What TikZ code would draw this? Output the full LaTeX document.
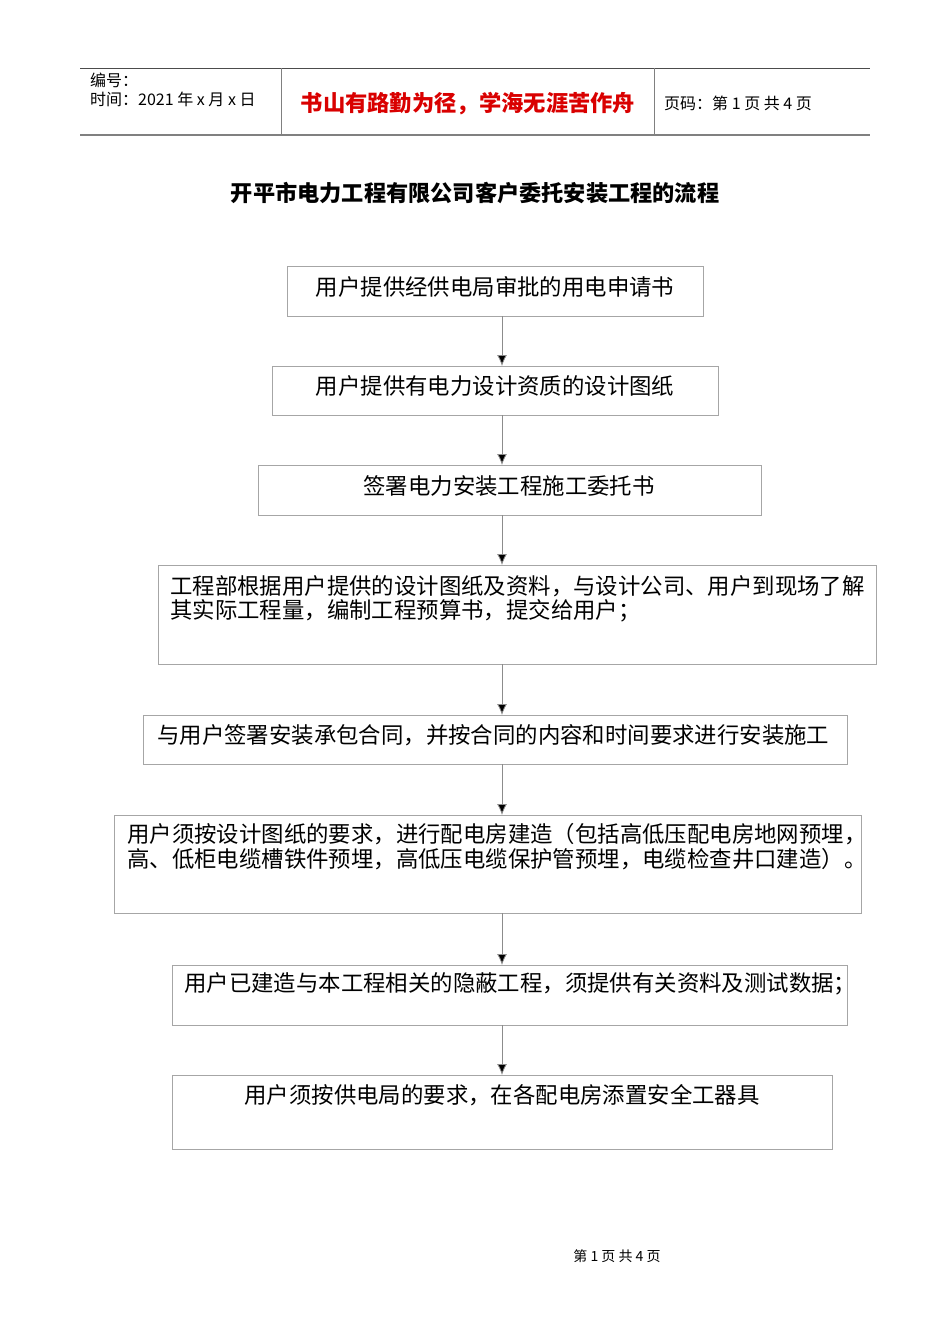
\documentclass[tikz,border=0pt]{standalone}
\usetikzlibrary{arrows.meta}
\usepackage{fontspec}
\setmainfont{Noto Sans CJK SC}
\begin{document}
\begin{tikzpicture}[x=1pt,y=-1pt,
  bx/.style={draw=black!35,line width=0.8pt},
  tx/.style={inner sep=0pt,font=\fontsize{22.4}{26}\selectfont},
  hd/.style={inner sep=0pt,anchor=west,font=\fontsize{16}{18}\selectfont},
  ar/.style={draw=black!45,line width=0.8pt,-{Latex[length=11pt,width=10pt,fill=black]}}]
\useasboundingbox[fill=white] (0,0) rectangle (950,1344);
% header
\draw[black!70,line width=0.8pt] (80,68) -- (870,68);
\draw[black!50,line width=1.5pt] (80,135) -- (870,135);
\draw[black!50,line width=0.8pt] (281,68) -- (281,135) (654,68) -- (654,135);
\node[hd] (h1) at (90,80) {编号：};
\node[hd] (h2) at (90,99) {时间：2021 年 x 月 x 日};
\node[inner sep=0pt,text=red!85!black,font=\fontsize{22.3}{24}\selectfont\bfseries] (h3) at (468,104) {书山有路勤为径，学海无涯苦作舟};
\node[hd] (h4) at (664,103) {页码：第 1 页  共 4 页};
\node[inner sep=0pt,font=\fontsize{22.2}{24}\selectfont\bfseries] (title) at (475,193) {开平市电力工程有限公司客户委托安装工程的流程};
% boxes
\draw[bx] (287,266) rectangle (703,316); \coordinate (b1t) at (502,266); \coordinate (b1b) at (502,316);
\node[tx] (t1) at (495,287) {用户提供经供电局审批的用电申请书};
\draw[bx] (272,366) rectangle (718,415); \coordinate (b2t) at (502,366); \coordinate (b2b) at (502,415);
\node[tx] (t2) at (495,386) {用户提供有电力设计资质的设计图纸};
\draw[bx] (258,465) rectangle (761,515); \coordinate (b3t) at (502,465); \coordinate (b3b) at (502,515);
\node[tx] (t3) at (509,486) {签署电力安装工程施工委托书};
\draw[bx] (158,565) rectangle (876,664); \coordinate (b4t) at (502,565); \coordinate (b4b) at (502,664);
\node[tx,anchor=west] (t4a) at (170,586) {工程部根据用户提供的设计图纸及资料，与设计公司、用户到现场了解};
\node[tx,anchor=west] (t4b) at (170,611) {其实际工程量，编制工程预算书，提交给用户；};
\draw[bx] (143,715) rectangle (847,764); \coordinate (b5t) at (502,715); \coordinate (b5b) at (502,764);
\node[tx,anchor=west] (t5) at (157,735) {与用户签署安装承包合同，并按合同的内容和时间要求进行安装施工};
\draw[bx] (114,815) rectangle (861,913); \coordinate (b6t) at (502,815); \coordinate (b6b) at (502,913);
\node[tx,anchor=west] (t6a) at (127,834) {用户须按设计图纸的要求，进行配电房建造（包括高低压配电房地网预埋，};
\node[tx,anchor=west] (t6b) at (127,859) {高、低柜电缆槽铁件预埋，高低压电缆保护管预埋，电缆检查井口建造）。};
\draw[bx] (172,965) rectangle (847,1025); \coordinate (b7t) at (502,965); \coordinate (b7b) at (502,1025);
\node[tx,anchor=west] (t7) at (184,984) {用户已建造与本工程相关的隐蔽工程，须提供有关资料及测试数据；};
\draw[bx] (172,1075) rectangle (832,1149); \coordinate (b8t) at (502,1075);
\node[tx] (t8) at (502,1095) {用户须按供电局的要求，在各配电房添置安全工器具};
% arrows
\draw[ar] (b1b) -- (b2t);
\draw[ar] (b2b) -- (b3t);
\draw[ar] (b3b) -- (b4t);
\draw[ar] (b4b) -- (b5t);
\draw[ar] (b5b) -- (b6t);
\draw[ar] (b6b) -- (b7t);
\draw[ar] (b7b) -- (b8t);
\node[inner sep=0pt,font=\fontsize{14}{16}\selectfont] (foot) at (617,1256) {第 1 页 共 4 页};
\end{tikzpicture}
\end{document}
